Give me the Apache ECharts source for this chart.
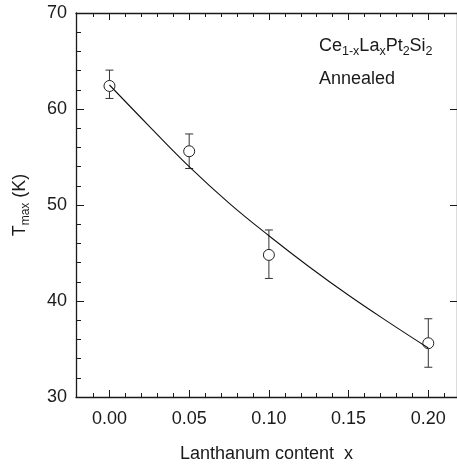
<!DOCTYPE html>
<html>
<head>
<meta charset="utf-8">
<script src="https://cdn.jsdelivr.net/npm/echarts@6/dist/echarts.min.js"></script>
<style>
html,body{margin:0;padding:0;background:#fff;}
#c{width:457px;height:469px;}
</style>
</head>
<body>
<div id="c"></div>
<script>
// ---- data ----
const xMajorTicks = [0, 0.05, 0.10, 0.15, 0.20];
const xMinorTicks = [-0.01, 0.01, 0.02, 0.03, 0.04, 0.06, 0.07, 0.08, 0.09, 0.11, 0.12, 0.13, 0.14, 0.16, 0.17, 0.18, 0.19, 0.21];
const yMajorTicks = [30, 40, 50, 60, 70];
const yMinorTicks = [32, 34, 36, 38, 42, 44, 46, 48, 52, 54, 56, 58, 62, 64, 66, 68];

const lanthanum = [0, 0.05, 0.10, 0.20];
const tmax      = [62.4, 55.6, 44.8, 35.6];
const errLow    = [61.1, 53.8, 42.35, 33.1];
const errHigh   = [64.05, 57.4, 47.4, 38.15];

const fitX = [0, 0.025, 0.05, 0.075, 0.10, 0.125, 0.15, 0.175, 0.20];
const fitY = [62.5, 58.2, 54.0, 50.2, 46.8, 43.6, 40.6, 37.8, 35.1];

const XMIN = -0.021, XMAX = 0.218, YMIN = 30, YMAX = 70;

// ---- chart ----
const FONT = 'Liberation Sans, Arial, Helvetica, sans-serif';
const INK = '#1a1a1a';
const chart = echarts.init(document.getElementById('c'), null, {renderer: 'canvas'});

function axLine(show) {
  return {show: show, onZero: false, lineStyle: {color: INK, width: 1.3}};
}
function xAx(extra) {
  return Object.assign({
    type: 'value', min: XMIN, max: XMAX, gridIndex: 0,
    splitLine: {show: false},
    axisLine: axLine(false),
    axisLabel: {show: false},
    axisTick: {show: false}
  }, extra);
}
function yAx(extra) {
  return Object.assign({
    type: 'value', min: YMIN, max: YMAX, gridIndex: 0,
    splitLine: {show: false},
    axisLine: axLine(false),
    axisLabel: {show: false},
    axisTick: {show: false}
  }, extra);
}

const option = {
  backgroundColor: '#fff',
  animation: false,
  grid: {left: 76, top: 13, width: 384, height: 384, containLabel: false},
  xAxis: [
    xAx({
      position: 'bottom',
      axisLine: axLine(true),
      axisTick: {show: true, inside: true, length: 7, customValues: xMajorTicks, lineStyle: {color: INK, width: 1}},
      axisLabel: {show: true, customValues: xMajorTicks, margin: 13, fontSize: 18, fontFamily: FONT, color: INK,
        formatter: v => v.toFixed(2)},
      name: 'Lanthanum content  x', nameLocation: 'middle', nameGap: 48,
      nameTextStyle: {fontSize: 18, fontFamily: FONT, color: INK}
    }),
    xAx({
      position: 'bottom',
      axisTick: {show: true, inside: true, length: 4, customValues: xMinorTicks, lineStyle: {color: INK, width: 1}}
    }),
    xAx({
      position: 'top',
      axisLine: axLine(true),
      axisTick: {show: true, inside: true, length: 7, customValues: xMajorTicks, lineStyle: {color: INK, width: 1}}
    }),
    xAx({
      position: 'top',
      axisTick: {show: true, inside: true, length: 4, customValues: xMinorTicks, lineStyle: {color: INK, width: 1}}
    })
  ],
  yAxis: [
    yAx({
      position: 'left',
      axisLine: axLine(true),
      axisTick: {show: true, inside: true, length: 8, customValues: yMajorTicks, lineStyle: {color: INK, width: 1}},
      axisLabel: {show: true, customValues: yMajorTicks, margin: 9, fontSize: 18, fontFamily: FONT, color: INK},
      name: '{a|T}{s|max}{a| (K)}', nameLocation: 'middle', nameGap: 44, nameRotate: 90,
      nameTextStyle: {fontFamily: FONT, color: INK,
        rich: {
          a: {fontSize: 18, fontFamily: FONT, color: INK, lineHeight: 24},
          s: {fontSize: 12, fontFamily: FONT, color: INK, lineHeight: 12, verticalAlign: 'bottom'}
        }}
    }),
    yAx({
      position: 'left',
      axisTick: {show: true, inside: true, length: 5, customValues: yMinorTicks, lineStyle: {color: INK, width: 1}}
    }),
    yAx({
      position: 'right',
      axisLine: axLine(true),
      axisTick: {show: true, inside: true, length: 7, customValues: yMajorTicks, lineStyle: {color: INK, width: 1}}
    })
  ],
  graphic: [
    {
      type: 'text', left: 319, top: 37, z: 10,
      style: {
        text: '{n|Ce}{s|1-x}{n|La}{s|x}{n|Pt}{s|2}{n|Si}{s|2}',
        fill: INK,
        rich: {
          n: {fontSize: 18, fontFamily: FONT, fill: INK, lineHeight: 24},
          s: {fontSize: 12.5, fontFamily: FONT, fill: INK, lineHeight: 12, verticalAlign: 'bottom'}
        }
      }
    },
    {
      type: 'text', left: 319, top: 70, z: 10,
      style: {text: 'Annealed', fontSize: 18, fontFamily: FONT, fill: INK}
    }
  ],
  series: [
    {
      type: 'custom', xAxisIndex: 0, yAxisIndex: 0, z: 2,
      data: lanthanum.map((x, i) => [x, errLow[i], errHigh[i]]),
      encode: {x: 0, y: [1, 2]},
      renderItem: function (params, api) {
        const x = api.value(0);
        const lo = api.coord([x, api.value(1)]);
        const hi = api.coord([x, api.value(2)]);
        const hw = 4;
        const st = {stroke: '#333', lineWidth: 1, fill: null};
        return {
          type: 'group',
          children: [
            {type: 'line', shape: {x1: lo[0], y1: lo[1], x2: hi[0], y2: hi[1]}, style: st},
            {type: 'line', shape: {x1: lo[0] - hw, y1: lo[1], x2: lo[0] + hw, y2: lo[1]}, style: st},
            {type: 'line', shape: {x1: hi[0] - hw, y1: hi[1], x2: hi[0] + hw, y2: hi[1]}, style: st}
          ]
        };
      }
    },
    {
      type: 'scatter', xAxisIndex: 0, yAxisIndex: 0, z: 3,
      data: lanthanum.map((x, i) => [x, tmax[i]]),
      symbol: 'circle', symbolSize: 11,
      itemStyle: {color: '#fff', borderColor: '#222', borderWidth: 1, opacity: 1}
    },
    {
      type: 'line', xAxisIndex: 0, yAxisIndex: 0, z: 4,
      data: fitX.map((x, i) => [x, fitY[i]]),
      smooth: 0.4, showSymbol: false, symbol: 'none',
      lineStyle: {color: '#111', width: 1.1}
    }
  ]
};
chart.setOption(option);
</script>
</body>
</html>
